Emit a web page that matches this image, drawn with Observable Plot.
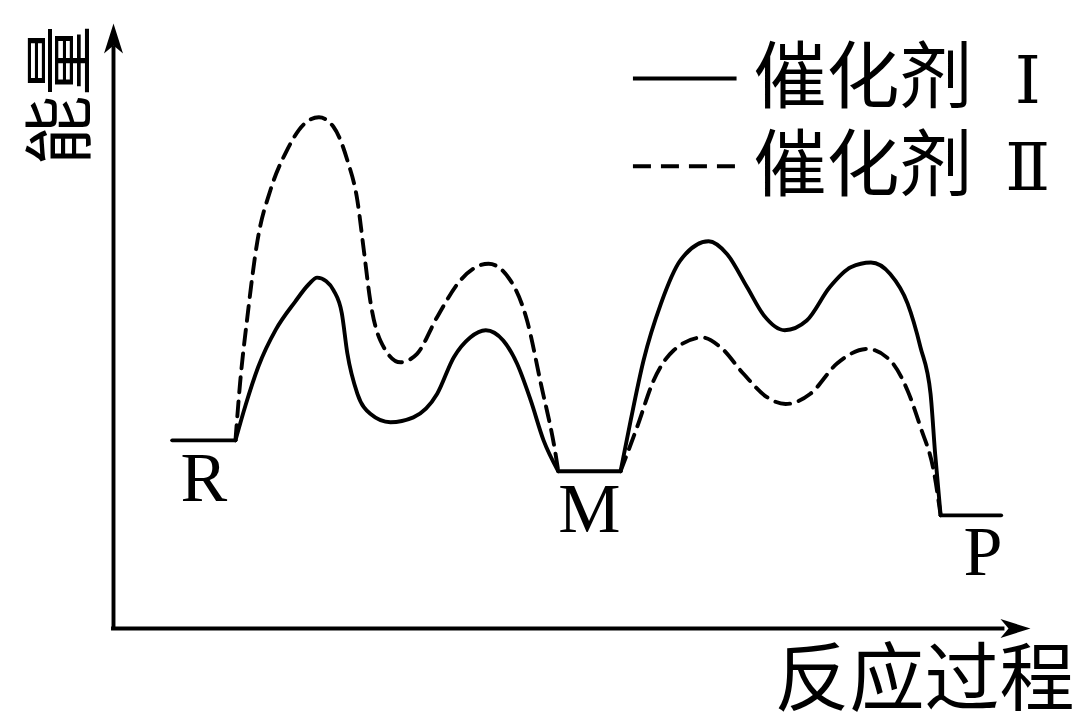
<!DOCTYPE html>
<html><head><meta charset="utf-8">
<script src="https://cdn.jsdelivr.net/npm/d3@7"></script>
<script src="https://cdn.jsdelivr.net/npm/@observablehq/plot@0.6"></script>
<style>html,body{margin:0;padding:0;background:#fff}#chart svg{display:block}</style>
</head><body><div id="chart"></div>
<script>
// Intermediate states (plateaus): name, start, end, energy level
const stages = ["R", "M", "P"];
const stageStart = [6.4, 48.5, 90.2];
const stageEnd = [13.3, 55.3, 96.8];
const stageEnergy = [31.1, 26.0, 18.7];

// Catalyst I (solid) – two humps, [progress, energy]
const cat1StepA = [[13.3,31.1],[14.4,36.9],[15.8,43.3],[17.7,49.4],[19.8,54.0],[21.3,56.9],[22.2,58.0],[23.2,57.4],[24.0,55.9],[24.9,52.1],[25.5,45.5],[26.6,38.8],[28.0,35.5],[30.2,34.1],[32.7,34.9],[35.3,38.8],[37.1,44.8],[38.9,48.1],[40.6,49.3],[42.5,47.6],[44.0,43.8],[45.5,37.7],[46.9,31.1],[48.5,26.0]];
const cat1StepB = [[55.3,26.0],[56.4,34.4],[57.8,44.3],[59.7,53.7],[61.8,60.8],[64.9,64.0],[66.9,61.9],[69.1,56.4],[70.9,51.8],[73.2,49.3],[75.6,50.9],[78.1,56.4],[80.4,59.7],[82.6,60.5],[84.7,58.6],[86.6,53.7],[88.0,46.5],[89.1,38.8],[89.6,28.9],[90.2,18.7]];

// Catalyst II (dashed)
const cat2StepA = [[13.3,31.1],[13.8,40.5],[14.6,51.5],[15.7,64.1],[17.1,72.4],[18.9,79.0],[20.8,83.4],[22.4,84.5],[24.0,82.9],[25.5,77.4],[26.6,70.7],[27.3,62.5],[28.0,54.2],[29.1,47.6],[31.3,44.0],[33.1,45.4],[35.3,51.5],[37.8,57.5],[40.9,60.3],[43.3,57.5],[45.1,50.9],[46.6,40.5],[48.2,28.9],[48.5,26.0]];
const cat2StepB = [[55.3,26.0],[57.1,33.3],[58.9,41.0],[61.1,46.0],[64.2,48.1],[66.2,46.5],[68.7,42.1],[71.3,38.2],[73.3,37.1],[76.0,38.8],[78.9,43.8],[82.2,46.2],[84.7,44.3],[86.6,39.3],[88.0,33.3],[89.5,25.6],[90.2,18.7]];

// Text
const legendNames = ["催化剂", "催化剂"];
const legendNumerals = ["Ⅰ", "Ⅱ"];
const xTitle = "反应过程";
const yTitle = "能量";

// ---- build tables ----
const toRows = (pts, seg) => pts.map(([x, y]) => ({x, y, seg}));
const cat1 = [...toRows(cat1StepA, "a"), ...toRows(cat1StepB, "b")];
const cat2 = [...toRows(cat2StepA, "a"), ...toRows(cat2StepB, "b")];
const plateaus = stages.flatMap((s, i) => [
  {x: stageStart[i], y: stageEnergy[i], s},
  {x: stageEnd[i], y: stageEnergy[i], s}
]);
const stageLabels = stages.map((s, i) => ({s, x: (stageStart[i] + stageEnd[i]) / 2, y: stageEnergy[i]}));

const arrowHead = {
  draw(ctx) {
    ctx.moveTo(0, 0);
    ctx.lineTo(-30, -9.5);
    ctx.lineTo(-22, 0);
    ctx.lineTo(-30, 9.5);
    ctx.closePath();
  }
};

const SW = 3.9;
const cjk = "'Noto Sans CJK SC', sans-serif";
const serif = "'Liberation Serif', 'DejaVu Serif', serif";
const dash = "15,9";

const legendY = [90.9, 76.4];
const legend = legendNames.map((n, i) => ({n, num: legendNumerals[i], y: legendY[i]}));

const chart = Plot.plot({
  width: 1080,
  height: 727,
  margin: 0,
  style: {background: "#fff"},
  x: {domain: [0, 100], range: [113, 1030], axis: null},
  y: {domain: [0, 100], range: [628, 23], axis: null},
  marks: [
    // axes
    Plot.ruleY([0], {x1: 0, x2: 97, stroke: "black", strokeWidth: SW, strokeLinecap: "square"}),
    Plot.ruleX([0], {y1: 0, y2: 96, stroke: "black", strokeWidth: SW, strokeLinecap: "square"}),
    Plot.dot([{x: 100, y: 0, r: 0}, {x: 0, y: 100, r: -90}], {x: "x", y: "y", rotate: "r", symbol: arrowHead, fill: "black", stroke: "none"}),
    // plateaus
    Plot.line(plateaus, {x: "x", y: "y", z: "s", stroke: "black", strokeWidth: SW}),
    // curves
    Plot.line(cat1, {x: "x", y: "y", z: "seg", curve: "monotone-x", stroke: "black", strokeWidth: SW}),
    Plot.line(cat2, {x: "x", y: "y", z: "seg", curve: "monotone-x", stroke: "black", strokeWidth: SW, strokeDasharray: dash}),
    // stage labels
    Plot.text(stageLabels.filter(d => d.s !== "P"), {x: "x", y: "y", text: "s", dy: 38, fontSize: 70, fontFamily: serif, fill: "black", lineAnchor: "middle"}),
    Plot.text(stageLabels.filter(d => d.s === "P"), {x: "x", y: "y", text: "s", dy: 37, dx: 12, fontSize: 70, fontFamily: serif, fill: "black", lineAnchor: "middle"}),
    // axis titles
    Plot.text([yTitle], {x: -5.6, y: 88.1, text: d => d, rotate: -90, fontSize: 70, fontFamily: cjk, fill: "black", textAnchor: "middle", lineAnchor: "middle"}),
    Plot.text([xTitle], {x: 104.8, y: -8.6, text: d => d, fontSize: 75, fontFamily: cjk, fill: "black", textAnchor: "end", lineAnchor: "middle"}),
    // legend
    Plot.ruleY([legend[0]], {y: "y", x1: 56.7, x2: 68.0, stroke: "black", strokeWidth: SW}),
    Plot.ruleY([legend[1]], {y: "y", x1: 56.7, x2: 68.0, stroke: "black", strokeWidth: SW, strokeDasharray: "18,10"}),
    Plot.text(legend, {x: 69.8, y: "y", text: "n", fontSize: 73, fontFamily: cjk, fill: "black", textAnchor: "start", lineAnchor: "middle"}),
    Plot.text(legend, {x: 99.7, y: "y", text: "num", fontSize: 66, fontFamily: serif, fill: "black", textAnchor: "middle", lineAnchor: "middle", dy: 3})
  ]
});
document.getElementById("chart").append(chart);
</script>
</body></html>
